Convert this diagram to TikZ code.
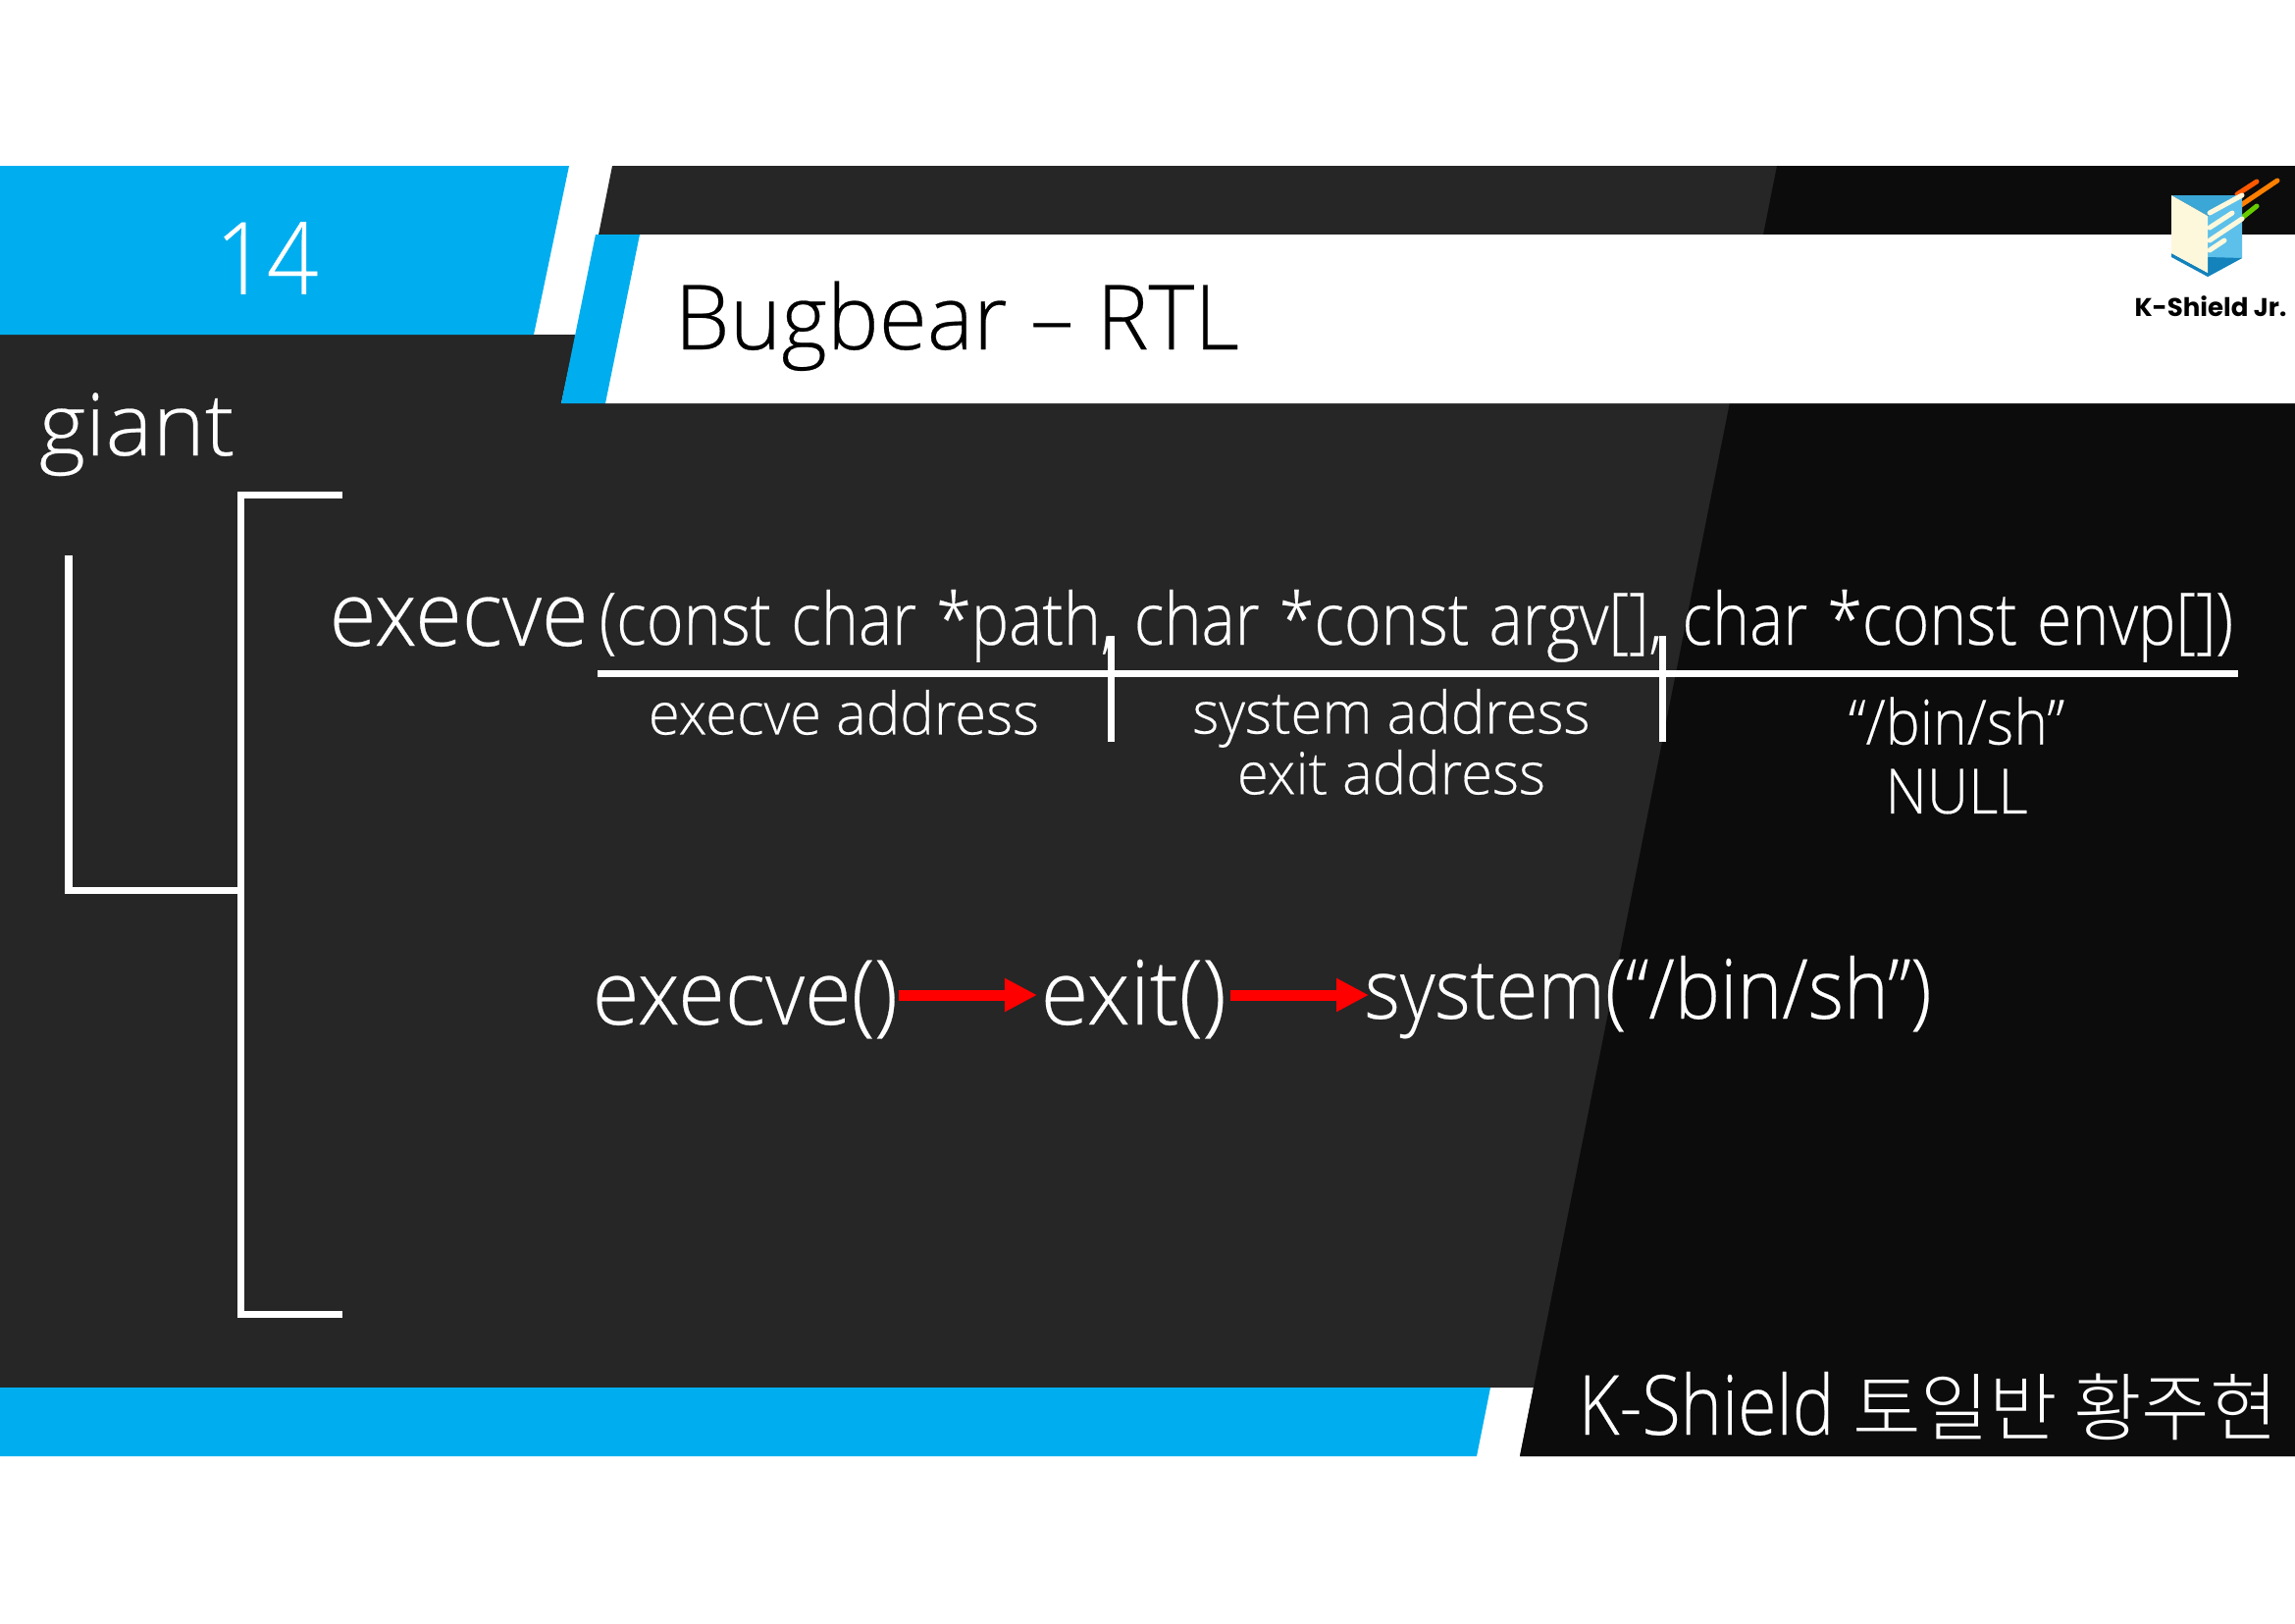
\documentclass[tikz,border=0pt]{standalone}
\usepackage{fontspec}
\setmainfont{Open Sans Light}
\newfontfamily\krfont{Noto Sans CJK KR Light}
\newfontfamily\logofont{Poppins}
\definecolor{slateblue}{HTML}{00AEEF}
\definecolor{slatedark}{HTML}{262626}
\definecolor{slateblack}{HTML}{0C0C0C}
\definecolor{logoface}{HTML}{5CC0EA}
\definecolor{logotop}{HTML}{3AA7D6}
\definecolor{logolow}{HTML}{1482BB}
\definecolor{logocream}{HTML}{FDF8DC}
\usetikzlibrary{arrows.meta}
\newcommand{\txtfont}[2]{\fontsize{#1pt}{#1pt}\selectfont\addfontfeature{FakeStretch=#2,FakeBold=0.3}}
\begin{document}
\begin{tikzpicture}[x=0.01cm, y=-0.01cm,
    txt/.style={text=white, inner sep=0pt, anchor=base west},
    rule/.style={draw=white, line width=0.07cm},
    streak/.style={line width=0.05cm, line cap=round},
    redarrow/.style={draw=red, line width=0.11cm, -{Triangle[length=0.33cm, width=0.32cm]}},
]
    \useasboundingbox (0,0) rectangle (2339,1654);
    % Bands
    \fill[slatedark] (624,169) -- (2339,169) -- (2339,239) -- (610,239) -- cycle;
    \fill[slatedark] (0,341) -- (587,341) -- (572,411) -- (2339,411) -- (2339,1414) -- (0,1414) -- cycle;
    \fill[slatedark] (1563,1414) -- (2339,1414) -- (2339,1484) -- (1549,1484) -- cycle;
    \fill[slateblack] (1811,169) -- (2339,169) -- (2339,1484) -- (1549,1484) -- cycle;
    \fill[white] (652,239) -- (2339,239) -- (2339,411) -- (617,411) -- cycle;
    \fill[slateblue] (607,239) -- (652,239) -- (617,411) -- (572,411) -- cycle;
    \fill[slateblue] (0,169) -- (580,169) -- (544,341) -- (0,341) -- cycle;
    \fill[slateblue] (0,1414) -- (1519,1414) -- (1505,1484) -- (0,1484) -- cycle;
    % Logo
    \draw[streak, color=orange!70!red] (2280,198) -- (2300,185);
    \draw[streak, color=orange] (2278,213) -- (2321,184);
    \draw[streak, color=green!60!orange] (2285,222) -- (2300,210);
    \fill[logoface] (2250,220) -- (2285,199) -- (2285,263) -- (2250,282) -- cycle;
    \fill[logotop] (2213,199) -- (2285,199) -- (2250,220) -- cycle;
    \fill[logolow] (2250,262) -- (2285,263) -- (2250,282) -- cycle;
    \fill[logolow] (2213,258) -- (2250,278) -- (2250,282) -- (2213,262) -- cycle;
    \fill[logocream] (2213,199) -- (2250,220) -- (2250,278) -- (2213,258) -- cycle;
    \draw[streak, logocream] (2252,217) -- (2285,199);
    \draw[streak, logocream] (2252,232) -- (2275,217);
    \draw[streak, logocream] (2252,245) -- (2285,223);
    \draw[streak, logocream] (2252,255) -- (2267,245);
    \node[inner sep=0pt, font=\logofont\bfseries\fontsize{7.4pt}{9pt}\selectfont] (logotext) at (2253,312) {K-Shield Jr.};
    % Titles
    \node[txt, font=\txtfont{29}{0.9}, anchor=center] (pagenum) at (272,263) {14};
    \node[inner sep=0pt, anchor=base west, font=\txtfont{26}{0.975}] (title) at (687,356) {Bugbear – RTL};
    \node[txt, font=\txtfont{25}{1.03}] (giant) at (39,464) {giant};
    % Brackets
    \coordinate (bigtop) at (349,504);
    \coordinate (bigbot) at (349,1339);
    \coordinate (smalltop) at (70,566);
    \coordinate (smallend) at (245,907);
    \draw[rule] (bigtop) -- (245,504) -- (245,1339) -- (bigbot);
    \draw[rule] (smalltop) -- (70,907) -- (smallend);
    % Signature
    \node[txt, font=\txtfont{26}{0.95}] (execve) at (335,658) {execve};
    \node[txt, font=\txtfont{21}{0.873}] (sig) at (610,657) {\spaceskip=5.7pt (const char *path, char *const argv[], char *const envp[])};
    \coordinate (linel) at (609,686);
    \coordinate (liner) at (2281,686);
    \draw[rule] (linel) -- (liner);
    \draw[rule] (1132,648) -- (1132,756);
    \draw[rule] (1694,648) -- (1694,756);
    \node[txt, font=\txtfont{17}{0.97}, anchor=center] (addr) at (860,726) {execve address};
    \node[txt, font=\txtfont{17}{0.97}, align=center, anchor=center] (sysexit) at (1418,756) {system address\\[0.6pt]exit address};
    \node[txt, font=\txtfont{18}{0.93}, align=center, anchor=center] (binsh) at (1994,770) {“/bin/sh”\\[2pt]NULL};
    % Call chain
    \node[txt, font=\txtfont{26}{0.95}] (callexecve) at (603,1044) {execve()};
    \node[txt, font=\txtfont{26}{0.97}] (callexit) at (1060,1044) {exit()};
    \node[txt, font=\txtfont{24}{0.92}] (callsystem) at (1390,1038) {system(“/bin/sh”)};
    \draw[redarrow, shorten >=0.03cm] (callexecve.east |- 0,1014) -- (callexit.west |- 0,1014);
    \draw[redarrow, shorten <=0.04cm, shorten >=-0.05cm] (callexit.east |- 0,1014) -- (callsystem.west |- 0,1014);
    % Footer
    \node[txt, font=\txtfont{24}{0.85}] (footer) at (1608,1462) {K-Shield {\krfont\addfontfeature{FakeStretch=1.0}\fontsize{21.5pt}{22pt}\selectfont 토일반 황주현}};
\end{tikzpicture}
\end{document}
